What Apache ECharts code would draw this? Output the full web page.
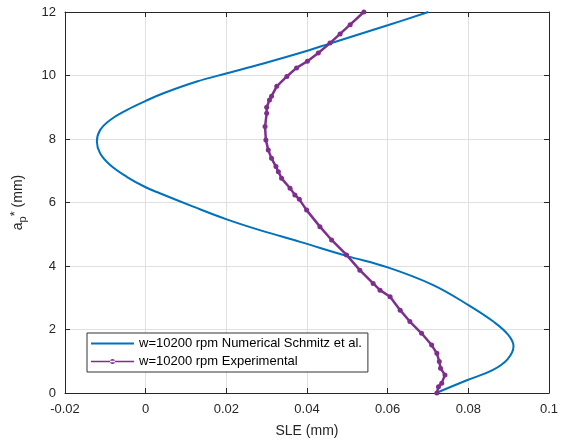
<!DOCTYPE html>
<html>
<head>
<meta charset="utf-8">
<script src="https://cdn.jsdelivr.net/npm/echarts@6/dist/echarts.min.js"></script>
<style>
  html, body { margin: 0; padding: 0; background: #fff; }
  #chart { width: 563px; height: 444px; }
</style>
</head>
<body>
<div id="chart"></div>
<script>
// numerical curve (Schmitz et al.)
const numY = [0, 0.41, 0.72, 1.06, 1.47, 1.83, 2.25, 2.77, 3.40, 3.95, 4.32, 4.76, 5.13, 5.47, 5.87, 6.29, 6.48, 6.81, 7.18, 7.55, 7.92, 8.28, 8.60, 8.91, 9.20, 9.44, 9.81, 10.07, 10.38, 10.78, 11.01, 11.59, 12.0];
const numX = [0.0720, 0.0798, 0.0860, 0.0897, 0.0912, 0.0899, 0.0862, 0.0800, 0.0713, 0.0602, 0.0498, 0.0383, 0.0283, 0.0201, 0.0118, 0.0035, 0.0, -0.0047, -0.0088, -0.0113, -0.0121, -0.0113, -0.0088, -0.0047, 0.0, 0.0044, 0.0127, 0.0202, 0.0292, 0.0401, 0.0457, 0.0602, 0.0701];

// experimental curve
const expY = [0, 0.20, 0.31, 0.57, 0.78, 0.99, 1.25, 1.51, 1.88, 2.25, 2.61, 3.03, 3.24, 3.45, 3.87, 4.35, 4.82, 5.24, 5.76, 6.10, 6.24, 6.45, 6.76, 6.97, 7.13, 7.39, 7.65, 7.97, 8.39, 8.81, 9.0, 9.23, 9.35, 9.66, 9.97, 10.24, 10.45, 10.71, 11.02, 11.31, 11.6, 12.0];
const expX = [0.0722, 0.0726, 0.0734, 0.0742, 0.0731, 0.0728, 0.0722, 0.0709, 0.0684, 0.0655, 0.0631, 0.0606, 0.0581, 0.0564, 0.0531, 0.0498, 0.0461, 0.0432, 0.0399, 0.0381, 0.0370, 0.0358, 0.0337, 0.0329, 0.0323, 0.0312, 0.0304, 0.0298, 0.0296, 0.0300, 0.0300, 0.0307, 0.0312, 0.0325, 0.0350, 0.0374, 0.0401, 0.0428, 0.0457, 0.0482, 0.0507, 0.0541];

const seriesNames = ['w=10200 rpm Numerical Schmitz et al.', 'w=10200 rpm Experimental'];

const font = 'Arial, "Liberation Sans", Helvetica, sans-serif';
const axisColor = '#262626';
const gridColor = '#e0e0e0';

// legend icons: plain line, and line with a dot in the middle
const lineIcon = 'path://M0,0 h43 v2 h-43 z';
const dotLineIcon = 'path://M0,1.75 h43 v1.5 h-43 z M19,2.5 a2.5,2.5 0 1,0 5,0 a2.5,2.5 0 1,0 -5,0 z';

const chart = echarts.init(document.getElementById('chart'));

const baseAxis = {
  axisLine: { show: true, onZero: false, lineStyle: { color: axisColor, width: 1 } },
  axisTick: { show: true, inside: true, length: 5, lineStyle: { color: axisColor } },
  splitLine: { show: false }
};

chart.setOption({
  animation: false,
  textStyle: { fontFamily: font },
  grid: { left: 65, right: 14, top: 12, bottom: 51 },
  legend: {
    orient: 'vertical',
    left: 87,
    top: 333,
    itemWidth: 43,
    itemHeight: 10,
    itemGap: 5,
    padding: [4, 6, 4, 4],
    borderColor: '#333',
    borderWidth: 1,
    backgroundColor: '#fff',
    textStyle: { fontFamily: font, fontSize: 13, color: '#000' },
    data: [
      { name: seriesNames[0], icon: lineIcon },
      { name: seriesNames[1], icon: dotLineIcon }
    ]
  },
  xAxis: [
    Object.assign({}, baseAxis, {
      type: 'value',
      min: -0.02, max: 0.1, interval: 0.02,
      name: 'SLE (mm)',
      nameLocation: 'middle',
      nameGap: 31,
      nameTextStyle: { fontFamily: font, fontSize: 14, color: axisColor },
      axisLabel: {
        fontFamily: font, fontSize: 13, color: axisColor, margin: 10,
        formatter: v => String(+v.toFixed(2))
      },
      splitLine: { show: true, lineStyle: { color: gridColor } }
    }),
    Object.assign({}, baseAxis, {
      type: 'value', position: 'top',
      min: -0.02, max: 0.1, interval: 0.02,
      axisLabel: { show: false }
    })
  ],
  yAxis: [
    Object.assign({}, baseAxis, {
      type: 'value',
      min: 0, max: 12, interval: 2,
      name: 'a{sub|p}{sup|*} (mm)',
      nameLocation: 'middle',
      nameGap: 37,
      nameTextStyle: {
        fontFamily: font, fontSize: 14, color: axisColor,
        rich: {
          sub: { fontFamily: font, fontSize: 11, color: axisColor, verticalAlign: 'bottom', padding: [9, 0, 0, 0] },
          sup: { fontFamily: font, fontSize: 13, color: axisColor, padding: [0, 0, 5, 0] }
        }
      },
      axisLabel: { fontFamily: font, fontSize: 13, color: axisColor, margin: 9 },
      splitLine: { show: true, lineStyle: { color: gridColor } }
    }),
    Object.assign({}, baseAxis, {
      type: 'value', position: 'right',
      min: 0, max: 12, interval: 2,
      axisLabel: { show: false }
    })
  ],
  series: [
    {
      name: seriesNames[0],
      type: 'line',
      smooth: 0.4,
      showSymbol: false,
      symbol: 'none',
      lineStyle: { color: '#0072BD', width: 2 },
      itemStyle: { color: '#0072BD' },
      data: numX.map((x, i) => [x, numY[i]]),
      z: 2
    },
    {
      name: seriesNames[1],
      type: 'line',
      symbol: 'circle',
      symbolSize: 5,
      lineStyle: { color: '#7E2F8E', width: 2.5 },
      itemStyle: { color: '#7E2F8E' },
      data: expX.map((x, i) => [x, expY[i]]),
      z: 3
    }
  ]
});
</script>
</body>
</html>
